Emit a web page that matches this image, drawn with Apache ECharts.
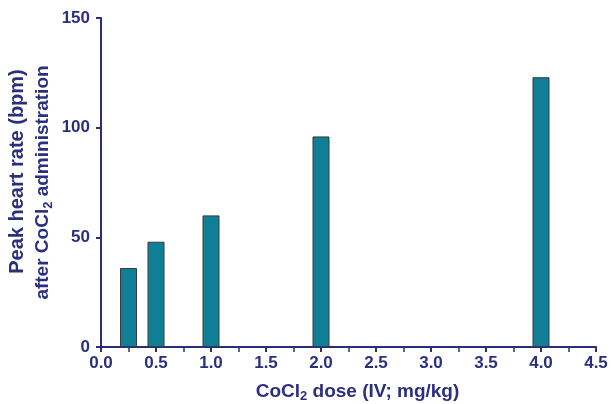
<!DOCTYPE html>
<html>
<head>
<meta charset="utf-8">
<script src="https://cdn.jsdelivr.net/npm/echarts@6/dist/echarts.min.js"></script>
<style>
  html, body { margin: 0; padding: 0; background: #fff; }
  #chart { width: 611px; height: 404px; }
</style>
</head>
<body>
<div id="chart"></div>
<script>
// CoCl2 dose (mg/kg) vs peak heart rate (bpm)
const doses = [0.25, 0.5, 1.0, 2.0, 4.0];
const peakHR = [36, 48, 60, 96, 123];

const NAVY = "#2b2f7f";
const AXIS = "#2a2d78";
const BAR = "#0e7f96";
const FONT = "'Liberation Sans', Arial, sans-serif";

const txt = (size, extra) => Object.assign(
  { fontFamily: FONT, fontWeight: "bold", fontSize: size, color: NAVY }, extra || {});

const chart = echarts.init(document.getElementById("chart"));
chart.setOption({
  animation: false,
  grid: { left: 101, right: 15, top: 18, bottom: 57, outerBoundsMode: "none" },
  xAxis: {
    type: "value",
    min: 0,
    max: 4.5,
    interval: 0.5,
    name: "{a|CoCl}{s|2}{a| dose (IV; mg/kg)}",
    nameLocation: "middle",
    nameGap: 34,
    nameMoveOverlap: false,
    nameTextStyle: {
      padding: [0, 0, 0, 18],
      rich: {
        a: txt(19),
        s: txt(13, { verticalAlign: "bottom", padding: [9, 0, 0, 0] }),
      },
    },
    axisLine: { lineStyle: { color: AXIS, width: 2 } },
    axisTick: { length: 5, lineStyle: { color: AXIS, width: 2 } },
    minorTick: { show: true, splitNumber: 2, length: 5, lineStyle: { color: AXIS, width: 1.5 } },
    splitLine: { show: false },
    axisLabel: txt(17, { margin: 8, formatter: (v) => v.toFixed(1) }),
  },
  yAxis: {
    type: "value",
    min: 0,
    max: 150,
    interval: 50,
    name: "{b|Peak heart rate (bpm)}\n{a|after CoCl}{s|2}{a| administration}",
    nameLocation: "middle",
    nameGap: 46,
    nameMoveOverlap: false,
    nameTextStyle: {
      lineHeight: 25,
      rich: {
        b: txt(20, { lineHeight: 25, padding: [0, 0, 0, 22] }),
        a: txt(19, { lineHeight: 25 }),
        s: txt(13, { lineHeight: 25, verticalAlign: "bottom", padding: [9, 0, 0, 0] }),
      },
    },
    axisLine: { show: true, lineStyle: { color: AXIS, width: 2 } },
    axisTick: { show: true, length: 5, lineStyle: { color: AXIS, width: 2 } },
    splitLine: { show: false },
    axisLabel: txt(17, { margin: 11 }),
  },
  series: [{
    type: "bar",
    barWidth: 17,
    data: doses.map((d, i) => [d, peakHR[i]]),
    itemStyle: { color: BAR, borderColor: "#3a3a3a", borderWidth: 1 },
  }],
});
</script>
</body>
</html>
